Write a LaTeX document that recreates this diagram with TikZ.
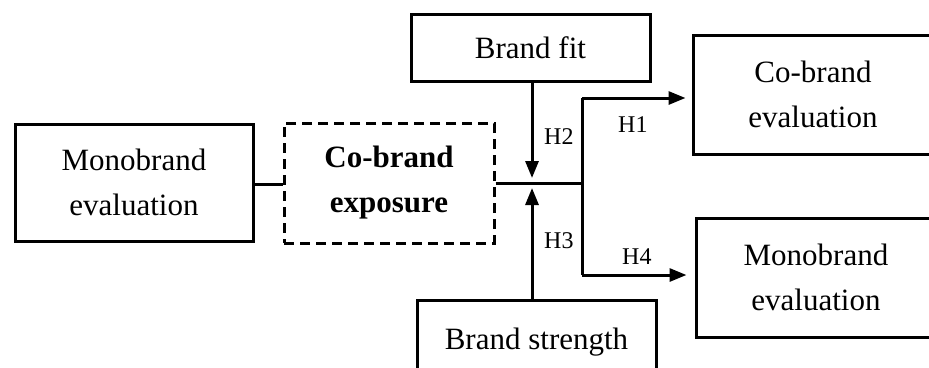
\documentclass[tikz,border=0pt]{standalone}
\usepackage{fontspec}
\setmainfont{Liberation Serif}
\usetikzlibrary{arrows.meta}
\tikzset{
  box/.style={draw, line width=3pt, minimum width=#1, inner sep=0pt, align=center, font=\fontsize{31}{45}\selectfont},
  dbox/.style={box=#1, dash pattern=on 10pt off 6pt},
  conn/.style={line width=3pt},
  arr/.style={conn, -{Triangle[length=17pt,width=13pt]}},
  hlab/.style={font=\fontsize{24}{26}\selectfont, inner sep=0pt}
}
\begin{document}
\begin{tikzpicture}[x=1pt,y=-1pt]
\useasboundingbox (0,0) rectangle (929,367);
\clip (0,0) rectangle (929,367);
\node[box=238pt, minimum height=117pt] (mono1) at (134,182.5) {Monobrand\\evaluation};
\node[dbox=210pt, minimum height=120pt, font=\fontsize{31}{45}\selectfont\bfseries] (expo) at (389,183) {Co-brand\\exposure};
\node[box=239pt, minimum height=67pt] (fit) at (530.5,47.5) {Brand fit};
\node[box=239pt, minimum height=84pt] (strength) at (536.5,342) {Brand strength};
\node[box=240pt, minimum height=119pt] (cobe) at (813,94.5) {Co-brand\\evaluation};
\node[box=240pt, minimum height=119pt] (mono2) at (816,277.5) {Monobrand\\evaluation};
\coordinate (j) at (582,183);
\coordinate (jt) at (582,98);
\coordinate (jb) at (582,275);
\coordinate (m2) at (532,183);
\draw[conn] (mono1.east |- 0,184) -- (expo.west |- 0,184);
\draw[conn] (expo.east |- j) -- (j);
\draw[conn] (jt) -- (jb);
\draw[arr, shorten >=6pt] (jt) -- (jt -| cobe.west);
\draw[arr, shorten >=8pt] (jb) -- (jb -| mono2.west);
\draw[arr, shorten >=5pt] (fit.south -| m2) -- (m2);
\draw[arr, shorten >=5pt] (strength.north -| m2) -- (m2);
\node[hlab, anchor=west] (h2) at (544,137) {H2};
\node[hlab, anchor=west] (h3) at (544,241) {H3};
\node[hlab, anchor=west] (h1) at (618,125) {H1};
\node[hlab, anchor=west] (h4) at (622,257) {H4};
\end{tikzpicture}
\end{document}
